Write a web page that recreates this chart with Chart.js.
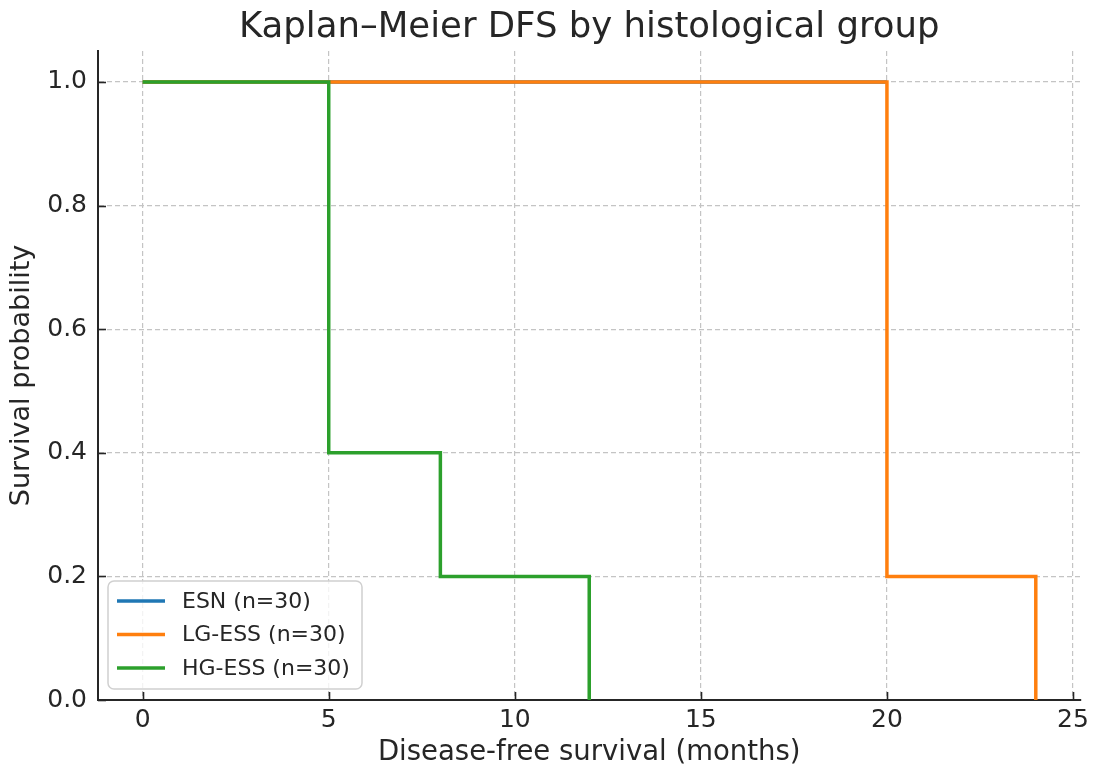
<!DOCTYPE html>
<html>
<head>
<meta charset="utf-8">
<title>Kaplan–Meier DFS</title>
<script src="https://cdn.jsdelivr.net/npm/chart.js@4.4.1/dist/chart.umd.min.js"></script>
<style>
    html, body { margin: 0; padding: 0; background: #ffffff; }
    #wrap { width: 1094px; height: 771px; position: relative; }
</style>
</head>
<body>
<div id="wrap"><canvas id="kmChart"></canvas></div>
<script>
// --- data ---
const chartTitle = 'Kaplan–Meier DFS by histological group';
const xAxisTitle = 'Disease-free survival (months)';
const yAxisTitle = 'Survival probability';

const groupLabels = ['ESN (n=30)', 'LG-ESS (n=30)', 'HG-ESS (n=30)'];

// ESN curve stays at 1.0 and is fully hidden under the other two
const esnTimes = [0, 20];
const esnSurvival = [1.0, 1.0];

const lgTimes = [0, 20, 24];
const lgSurvival = [1.0, 0.2, 0.0];

const hgTimes = [0, 5, 8, 12];
const hgSurvival = [1.0, 0.4, 0.2, 0.0];

const xTicks = [0, 5, 10, 15, 20, 25];
const yTicks = [0.0, 0.2, 0.4, 0.6, 0.8, 1.0];

const groupColors = ['#1f77b4', '#ff7f0e', '#2ca02c'];   // matplotlib tab10
const textColor = '#262626';
const gridColor = '#c4c4c4';
const fontFamily = '"DejaVu Sans", Verdana, sans-serif';

function toPoints(times, values) {
    return times.map((t, i) => ({ x: t, y: values[i] }));
}

function makeDataset(label, times, values, color, order) {
    return {
        label: label,
        data: toPoints(times, values),
        borderColor: color,
        backgroundColor: color,
        borderWidth: 3.5,
        showLine: true,
        stepped: true,      // post-step, like a KM curve
        fill: false,
        pointRadius: 0,
        pointHoverRadius: 0,
        order: order        // last group drawn on top, like matplotlib
    };
}

// inward tick marks, title and the boxed legend
const kmFramePlugin = {
    id: 'kmFrame',
    beforeDatasetsDraw(chart) {
        const { ctx, chartArea, scales } = chart;
        ctx.save();
        ctx.strokeStyle = textColor;
        ctx.lineWidth = 1.6;
        xTicks.forEach(v => {
            const px = Math.round(scales.x.getPixelForValue(v)) + 0.5;
            ctx.beginPath();
            ctx.moveTo(px, chartArea.bottom);
            ctx.lineTo(px, chartArea.bottom - 8);
            ctx.stroke();
        });
        yTicks.forEach(v => {
            const py = Math.round(scales.y.getPixelForValue(v)) + 0.5;
            ctx.beginPath();
            ctx.moveTo(chartArea.left, py);
            ctx.lineTo(chartArea.left + 8, py);
            ctx.stroke();
        });
        ctx.restore();
    },
    afterDraw(chart) {
        const { ctx, chartArea } = chart;
        ctx.save();

        // title, centred over the axes
        ctx.fillStyle = textColor;
        ctx.font = '35.5px ' + fontFamily;
        ctx.textAlign = 'center';
        ctx.textBaseline = 'alphabetic';
        ctx.fillText(chartTitle, (chartArea.left + chartArea.right) / 2, 37);

        // legend, lower left inside the axes
        const boxX = chartArea.left + 10;
        const boxW = 254;
        const boxH = 108;
        const boxY = chartArea.bottom - 11 - boxH;
        const rowH = 33.5;

        ctx.beginPath();
        ctx.roundRect(boxX, boxY, boxW, boxH, 6);
        ctx.fillStyle = 'rgba(255,255,255,0.8)';
        ctx.fill();
        ctx.strokeStyle = '#d0d0d0';
        ctx.lineWidth = 1.5;
        ctx.stroke();

        ctx.font = '22px ' + fontFamily;
        ctx.textAlign = 'left';
        ctx.textBaseline = 'middle';
        chart.data.datasets.forEach((ds, i) => {
            const cy = boxY + 20 + i * rowH;
            ctx.strokeStyle = ds.borderColor;
            ctx.lineWidth = 3.5;
            ctx.beginPath();
            ctx.moveTo(boxX + 9, cy);
            ctx.lineTo(boxX + 57, cy);
            ctx.stroke();
            ctx.fillStyle = textColor;
            ctx.fillText(ds.label, boxX + 74, cy + 1);
        });

        ctx.restore();
    }
};

const chart = new Chart(document.getElementById('kmChart'), {
    type: 'scatter',
    data: {
        datasets: [
            makeDataset(groupLabels[0], esnTimes, esnSurvival, groupColors[0], 2),
            makeDataset(groupLabels[1], lgTimes, lgSurvival, groupColors[1], 1),
            makeDataset(groupLabels[2], hgTimes, hgSurvival, groupColors[2], 0)
        ]
    },
    options: {
        responsive: true,
        maintainAspectRatio: false,
        animation: false,
        events: [],
        layout: {
            padding: { top: 51, right: 12, left: 0, bottom: 0 }
        },
        scales: {
            x: {
                type: 'linear',
                min: -1.2,
                max: 25.2,
                afterFit(scale) { scale.height = 71; },
                afterBuildTicks(scale) {
                    scale.ticks = xTicks.map(v => ({ value: v }));
                },
                grid: {
                    color: gridColor,
                    lineWidth: 1.2,
                    drawTicks: false
                },
                border: {
                    display: true,
                    color: textColor,
                    width: 2,
                    dash: [5, 3]     // v4: dashes the grid lines, not the axis line
                },
                ticks: {
                    color: textColor,
                    padding: 5,
                    font: { family: fontFamily, size: 25 },
                    callback: v => String(v)
                },
                title: {
                    display: true,
                    text: xAxisTitle,
                    color: textColor,
                    font: { family: fontFamily, size: 27.5 },
                    padding: { top: 0, bottom: 2 }
                }
            },
            y: {
                type: 'linear',
                min: 0,
                max: 1.05,
                afterFit(scale) { scale.width = 98; },
                afterBuildTicks(scale) {
                    scale.ticks = yTicks.map(v => ({ value: v }));
                },
                grid: {
                    color: gridColor,
                    lineWidth: 1.2,
                    drawTicks: false
                },
                border: {
                    display: true,
                    color: textColor,
                    width: 2,
                    dash: [5, 3]
                },
                ticks: {
                    color: textColor,
                    padding: 11,
                    font: { family: fontFamily, size: 25 },
                    callback: v => Number(v).toFixed(1)
                },
                title: {
                    display: true,
                    text: yAxisTitle,
                    color: textColor,
                    font: { family: fontFamily, size: 27 },
                    padding: { top: 6, bottom: 0 }
                }
            }
        },
        plugins: {
            legend: { display: false },
            tooltip: { enabled: false },
            title: { display: false }
        }
    },
    plugins: [kmFramePlugin]
});
</script>
</body>
</html>
